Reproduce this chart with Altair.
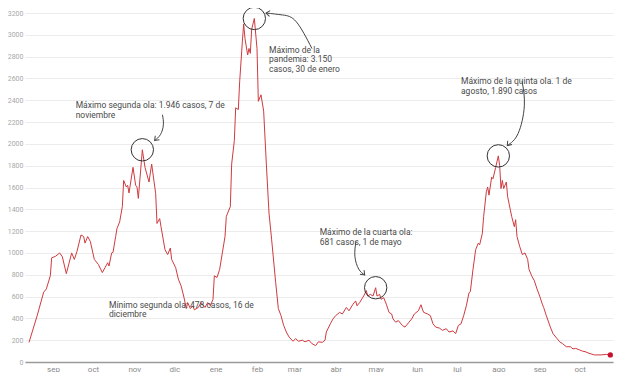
import altair as alt
import pandas as pd

# ---- main series (daily cases) ----
dates = [
    "2020-08-14", "2020-08-20", "2020-08-25", "2020-08-27", "2020-08-30", "2020-08-31",
    "2020-09-03", "2020-09-06", "2020-09-08", "2020-09-11", "2020-09-15", "2020-09-17",
    "2020-09-19", "2020-09-22", "2020-09-24", "2020-09-25", "2020-09-27", "2020-09-29",
    "2020-10-02", "2020-10-03", "2020-10-05", "2020-10-08", "2020-10-10", "2020-10-12",
    "2020-10-13", "2020-10-15", "2020-10-16", "2020-10-18", "2020-10-19", "2020-10-21",
    "2020-10-23", "2020-10-24", "2020-10-26", "2020-10-27", "2020-10-28", "2020-10-31",
    "2020-11-02", "2020-11-03", "2020-11-04", "2020-11-07", "2020-11-09", "2020-11-12",
    "2020-11-14", "2020-11-17", "2020-11-18", "2020-11-20", "2020-11-21", "2020-11-24",
    "2020-11-26", "2020-11-28", "2020-11-29", "2020-12-02", "2020-12-04", "2020-12-06",
    "2020-12-08", "2020-12-10", "2020-12-11", "2020-12-13", "2020-12-15", "2020-12-16",
    "2020-12-19", "2020-12-21", "2020-12-24", "2020-12-26", "2020-12-28", "2020-12-30",
    "2020-12-31", "2021-01-02", "2021-01-04", "2021-01-06", "2021-01-08", "2021-01-09",
    "2021-01-10", "2021-01-12", "2021-01-13", "2021-01-15", "2021-01-16", "2021-01-18",
    "2021-01-19", "2021-01-21", "2021-01-22", "2021-01-23", "2021-01-25", "2021-01-26",
    "2021-01-27", "2021-01-28", "2021-01-30", "2021-02-01", "2021-02-02", "2021-02-04",
    "2021-02-06", "2021-02-08", "2021-02-10", "2021-02-12", "2021-02-15", "2021-02-17",
    "2021-02-19", "2021-02-21", "2021-02-23", "2021-02-25", "2021-02-28", "2021-03-02",
    "2021-03-04", "2021-03-07", "2021-03-09", "2021-03-12", "2021-03-14", "2021-03-17",
    "2021-03-19", "2021-03-22", "2021-03-24", "2021-03-25", "2021-03-28", "2021-03-30",
    "2021-04-01", "2021-04-04", "2021-04-06", "2021-04-09", "2021-04-11", "2021-04-14",
    "2021-04-16", "2021-04-17", "2021-04-19", "2021-04-22", "2021-04-24", "2021-04-25",
    "2021-04-27", "2021-04-29", "2021-05-01", "2021-05-02", "2021-05-04", "2021-05-05",
    "2021-05-07", "2021-05-09", "2021-05-11", "2021-05-13", "2021-05-14", "2021-05-16",
    "2021-05-18", "2021-05-21", "2021-05-23", "2021-05-26", "2021-05-28", "2021-05-30",
    "2021-06-02", "2021-06-04", "2021-06-05", "2021-06-06", "2021-06-09", "2021-06-11",
    "2021-06-13", "2021-06-15", "2021-06-18", "2021-06-20", "2021-06-23", "2021-06-25",
    "2021-06-28", "2021-06-30", "2021-07-02", "2021-07-04", "2021-07-06", "2021-07-08",
    "2021-07-10", "2021-07-11", "2021-07-13", "2021-07-15", "2021-07-17", "2021-07-18",
    "2021-07-20", "2021-07-21", "2021-07-23", "2021-07-24", "2021-07-25", "2021-07-27",
    "2021-07-28", "2021-07-30", "2021-08-01", "2021-08-02", "2021-08-03", "2021-08-04",
    "2021-08-05", "2021-08-07", "2021-08-08", "2021-08-10", "2021-08-11", "2021-08-13",
    "2021-08-14", "2021-08-15", "2021-08-17", "2021-08-19", "2021-08-21", "2021-08-23",
    "2021-08-24", "2021-08-26", "2021-08-28", "2021-08-30", "2021-09-01", "2021-09-03",
    "2021-09-04", "2021-09-06", "2021-09-09", "2021-09-11", "2021-09-14", "2021-09-16",
    "2021-09-18", "2021-09-21", "2021-09-24", "2021-09-26", "2021-09-28", "2021-10-01",
    "2021-10-03", "2021-10-05", "2021-10-08", "2021-10-12", "2021-10-17", "2021-10-21",
    "2021-10-24",
]
cases = [
    180, 420, 640, 670, 790, 955,
    970, 1000, 965, 810, 1000, 940,
    1015, 1165, 1150, 1090, 1150, 1105,
    940, 925, 895, 820, 865, 910,
    880, 1000, 1005, 1150, 1225, 1285,
    1425, 1665, 1605, 1620, 1550, 1785,
    1620, 1605, 1500, 1946, 1785, 1650,
    1815, 1545, 1270, 1315, 1240, 1030,
    985, 1045, 940, 865, 760, 700,
    605, 490, 545, 490, 515, 478,
    500, 545, 500, 545, 515, 575,
    790, 775, 850, 1000, 1150, 1335,
    1365, 1425, 1815, 2030, 2330, 2315,
    2570, 2935, 3100, 2965, 2815, 2875,
    2830, 3050, 3150, 2875, 2390, 2450,
    2300, 1815, 1365, 1120, 730, 490,
    425, 335, 275, 230, 190, 215,
    190, 200, 185, 200, 170, 150,
    185, 180, 200, 275, 350, 395,
    425, 455, 440, 500, 470, 530,
    560, 515, 545, 605, 655, 605,
    620, 605, 681, 605, 620, 575,
    590, 530, 455, 440, 395, 365,
    380, 335, 320, 365, 395, 440,
    470, 525, 485, 455, 440, 425,
    350, 320, 310, 290, 305, 275,
    285, 260, 335, 350, 425, 515,
    635, 645, 850, 1030, 1090, 1075,
    1180, 1335, 1560, 1605, 1530, 1695,
    1680, 1785, 1890, 1800, 1590, 1665,
    1590, 1650, 1515, 1395, 1335, 1240,
    1305, 1150, 1060, 985, 1000, 940,
    850, 790, 745, 670, 605, 530,
    500, 425, 320, 260, 215, 185,
    170, 140, 140, 120, 125, 110,
    100, 95, 80, 65, 65, 70,
    65,
]

# ---- annotations ----
peak_dates = ["2020-11-07", "2021-01-30", "2021-05-01", "2021-08-01"]
peak_cases = [1946, 3150, 681, 1890]

note_texts = [
    "Máximo segunda ola: 1.946 casos, 7 de\nnoviembre",
    "Máximo de la\npandemia: 3.150\ncasos, 30 de enero",
    "Máximo de la cuarta ola:\n681 casos, 1 de mayo",
    "Máximo de la quinta ola. 1 de\nagosto, 1.890 casos",
    "Mínimo segunda ola: 478 casos, 16 de\ndiciembre",
]
note_dates = ["2020-09-18", "2021-02-10", "2021-03-20", "2021-07-04", "2020-10-13"]
note_values = [2390, 2900, 1225, 2610, 560]

arrow_ids = ["a", "a", "a", "a", "b", "b", "b", "b", "c", "c", "c", "c", "d", "d", "d", "d"]
arrow_dates = [
    "2020-11-22T02:00", "2020-11-22T19:00", "2020-11-20T14:00", "2020-11-16T05:00",
    "2021-03-14T05:00", "2021-03-02T12:00", "2021-02-20T05:00", "2021-02-07T18:00",
    "2021-08-18T18:00", "2021-08-20T12:00", "2021-08-15T19:00", "2021-08-07T17:00",
    "2021-04-16T05:00", "2021-04-15T10:00", "2021-04-18T07:00", "2021-04-22T19:00",
]
arrow_values = [
    2267, 2176, 2085, 2031,
    2874, 3119, 3182, 3200,
    2575, 2348, 2094, 1985,
    1106, 970, 852, 798,
]
arrow_angles = [135, 187, 132, 45]

month_names = ['ene', 'feb', 'mar', 'abr', 'may', 'jun', 'jul', 'ago', 'sep', 'oct', 'nov', 'dic']
y_ticks = list(range(0, 3201, 200))

# ---- tables ----
df = pd.DataFrame({"fecha": pd.to_datetime(dates), "casos": cases})
last = df.tail(1)
peaks = pd.DataFrame({"fecha": pd.to_datetime(peak_dates), "casos": peak_cases})
notes = pd.DataFrame({"fecha": pd.to_datetime(note_dates), "casos": note_values, "txt": note_texts})
arrows = pd.DataFrame({
    "id": arrow_ids,
    "ord": list(range(len(arrow_ids))),
    "fecha": pd.to_datetime(arrow_dates),
    "casos": arrow_values,
})
tips = arrows.groupby("id").tail(1).reset_index(drop=True)
tips["ang"] = arrow_angles

month_ticks = []
for yy, mm in [(2020, m) for m in range(9, 13)] + [(2021, m) for m in range(1, 11)]:
    month_ticks.append(alt.DateTime(year=yy, month=mm, date=1))

x_scale = alt.Scale(domain=[alt.DateTime(year=2020, month=8, date=11),
                            alt.DateTime(year=2021, month=10, date=26)])
y_scale = alt.Scale(domain=[0, 3200], nice=False)

label_expr = "[" + ",".join("'%s'" % m for m in month_names) + "][month(datum.value)]"

x_enc = alt.X("fecha:T", scale=x_scale, axis=alt.Axis(
    values=month_ticks, labelExpr=label_expr, title=None, ticks=False, grid=False,
    domainColor="#9a9a9a", domainWidth=1.5, labelColor="#8a8a8a", labelFontSize=8,
    labelFont="Roboto", labelPadding=3, labelOverlap=False, labelFlush=False))
y_enc = alt.Y("casos:Q", scale=y_scale, axis=alt.Axis(
    values=y_ticks, format="d", title=None, ticks=False, domain=False,
    gridColor="#ececec", gridWidth=1, labelColor="#a8a8a8", labelFontSize=7,
    labelFont="Roboto", labelPadding=2, labelOverlap=False))

base = alt.Chart().encode(x=x_enc, y=y_enc)

base_line = base.mark_line(color="#d03a3f", strokeWidth=1).properties(data=df)

end_dot = base.mark_point(filled=True, color="#c8102e", size=28, opacity=1).properties(data=last)

circles = base.mark_point(shape="circle", filled=False, size=500,
                          stroke="#333333", strokeWidth=1, opacity=1).properties(data=peaks)

arrow_lines = base.mark_line(interpolate="natural", color="#444444", strokeWidth=1).encode(
    detail="id:N", order="ord:Q").properties(data=arrows)

arrow_heads = base.mark_point(shape="M-1,-0.75L0,0L-1,0.75", filled=False, size=60,
                              stroke="#444444", strokeWidth=1, opacity=1).encode(
    angle=alt.Angle("ang:Q", scale=None)).properties(data=tips)

texts = base.mark_text(align="left", baseline="top", fontSize=8.5, font="Roboto",
                       color="#4a4a4a", lineBreak="\n", lineHeight=9.5).encode(
    text="txt:N").properties(data=notes)

chart = alt.layer(base_line, end_dot, circles, arrow_lines, arrow_heads, texts).properties(
    width=588, height=349,
    autosize=alt.AutoSizeParams(type="none"),
    padding={"left": 17, "top": 5, "right": 2, "bottom": 10},
    background="white",
).configure_view(stroke=None)

chart.save("out.html", embed_options={"renderer": "svg", "actions": False})
